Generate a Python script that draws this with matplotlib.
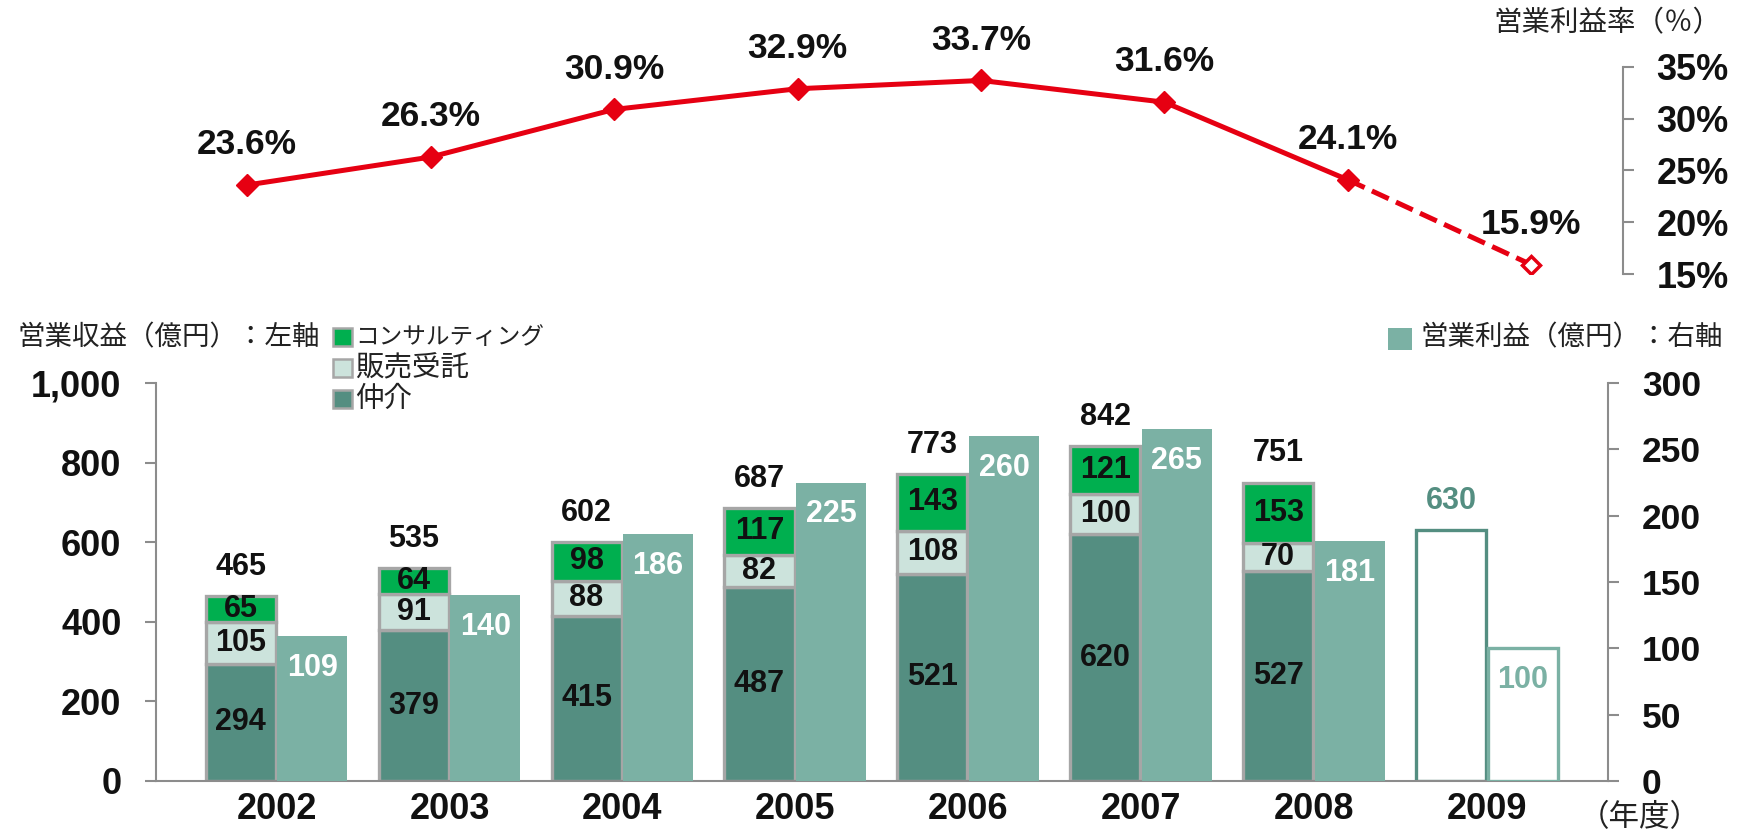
import matplotlib
matplotlib.use('Agg')
import matplotlib.pyplot as plt
from matplotlib.patches import Rectangle
import numpy as np

# ---------------- data ----------------
years = ['2002', '2003', '2004', '2005', '2006', '2007', '2008', '2009']
chukai = [294, 379, 415, 487, 521, 620, 527]          # 仲介
hanbai = [105, 91, 88, 82, 108, 100, 70]              # 販売受託
consult = [65, 64, 98, 117, 143, 121, 153]            # コンサルティング
totals = [465, 535, 602, 687, 773, 842, 751]          # 営業収益 合計
revenue_2009 = 630
op_profit = [109, 140, 186, 225, 260, 265, 181]       # 営業利益
profit_2009 = 100
margin = [23.6, 26.3, 30.9, 32.9, 33.7, 31.6, 24.1]   # 営業利益率
margin_2009 = 15.9
left_ticks = [0, 200, 400, 600, 800, 1000]
left_ticklabels = ['0', '200', '400', '600', '800', '1,000']
right_ticks = [0, 50, 100, 150, 200, 250, 300]
pct_ticks = [15, 20, 25, 30, 35]

# ---------------- style ----------------
W, H = 1742, 835
NUM = 'Liberation Sans'
CJK = ['Noto Sans CJK JP', 'DejaVu Sans']
C_CHUKAI = '#548E81'
C_HANBAI = '#CCE3DC'
C_CONSULT = '#00AF4F'
C_PROFIT = '#7BB1A4'
C_EDGE = '#A6A6A6'
C_AXIS = '#8C8C8C'
C_RED = '#E60012'

fig = plt.figure(figsize=(W / 100, H / 100), dpi=100)


def rect(x0, y0, x1, y1):
    return [x0 / W, 1 - y1 / H, (x1 - x0) / W, (y1 - y0) / H]


# ---------------- bottom bar chart ----------------
ax = fig.add_axes(rect(155.5, 383, 1608, 781))
ax2 = ax.twinx()
ax.set_xlim(-0.7, 7.7)
ax.set_ylim(0, 1000)
ax2.set_ylim(0, 300)

x = np.arange(len(chukai))
bw = 0.405
off = 0.207
xs = x - off
xp = x + off

bottoms2 = np.array(chukai)
bottoms3 = bottoms2 + np.array(hanbai)
ax.bar(xs, chukai, bw, color=C_CHUKAI, edgecolor=C_EDGE, linewidth=2.4, zorder=2)
ax.bar(xs, hanbai, bw, bottom=bottoms2, color=C_HANBAI, edgecolor=C_EDGE, linewidth=2.4, zorder=2)
ax.bar(xs, consult, bw, bottom=bottoms3, color=C_CONSULT, edgecolor=C_EDGE, linewidth=2.4, zorder=2)
ax.bar([7 - off], [revenue_2009], bw, color='white', edgecolor=C_CHUKAI, linewidth=2.4, zorder=2)

ax2.bar(xp, op_profit, bw, color=C_PROFIT, linewidth=0, zorder=2)
ax2.bar([7 + off], [profit_2009], bw, color='white', edgecolor=C_PROFIT, linewidth=2.4, zorder=2)

lab = dict(fontfamily=NUM, fontweight='bold', fontsize=22, ha='center', va='center')
for i in range(len(chukai)):
    ax.text(xs[i], chukai[i] / 2, str(chukai[i]), color='#111111', zorder=5, **lab)
    ax.text(xs[i], bottoms2[i] + hanbai[i] / 2, str(hanbai[i]), color='#111111', zorder=5, **lab)
    ax.text(xs[i], bottoms3[i] + consult[i] / 2, str(consult[i]), color='#111111', zorder=5, **lab)
    top = bottoms3[i] + consult[i]
    ax.annotate(str(totals[i]), xy=(xs[i], top), xytext=(0, 21), textcoords='offset points',
                color='#111111', **lab)
    ax2.annotate(str(op_profit[i]), xy=(xp[i], op_profit[i]), xytext=(0, -23),
                 textcoords='offset points', color='white', zorder=5, **lab)
ax.annotate(str(revenue_2009), xy=(7 - off, revenue_2009), xytext=(0, 21),
            textcoords='offset points', color=C_CHUKAI, **lab)
ax2.annotate(str(profit_2009), xy=(7 + off, profit_2009), xytext=(0, -23),
             textcoords='offset points', color=C_PROFIT, zorder=5, **lab)

for a in (ax, ax2):
    for s in a.spines.values():
        s.set_visible(False)
ax.spines['left'].set_visible(True)
ax.spines['bottom'].set_visible(True)
ax2.spines['right'].set_visible(True)
for s in (ax.spines['left'], ax.spines['bottom'], ax2.spines['right']):
    s.set_color(C_AXIS)
    s.set_linewidth(1.5)

ax.set_xticks(range(len(years)))
ax.set_xticklabels(years, fontfamily=NUM, fontweight='bold', fontsize=26)
ax.tick_params(axis='x', length=0, pad=8, colors='#111111')
ax.set_yticks(left_ticks)
ax.set_yticklabels(left_ticklabels, fontfamily=NUM, fontweight='bold', fontsize=26)
ax.tick_params(axis='y', direction='out', length=8, width=1.5, color=C_AXIS, pad=16.5,
               labelcolor='#111111')
ax2.set_yticks(right_ticks)
ax2.set_yticklabels([str(t) for t in right_ticks], fontfamily=NUM, fontweight='bold', fontsize=25.5)
ax2.tick_params(axis='y', direction='out', length=8, width=1.5, color=C_AXIS, pad=16.5,
                labelcolor='#111111')

# ---------------- top line chart ----------------
axt = fig.add_axes(rect(155.5, 67, 1623, 274))
axt.set_xlim(-0.5, 7.5)
axt.set_ylim(15, 35)
axt.patch.set_visible(False)
xl = np.arange(len(margin))
axt.plot([6, 7], [margin[-1], margin_2009], color=C_RED, lw=3.6, ls='--', zorder=2)
axt.plot(xl, margin, color=C_RED, lw=3.6, marker='D', ms=11, mfc=C_RED, mec=C_RED, zorder=3)
axt.plot([7], [margin_2009], ls='none', marker='D', ms=9, mfc='white', mec=C_RED, mew=2.5, zorder=3)
plab = dict(fontfamily=NUM, fontweight='bold', fontsize=25.5, ha='center', va='center',
            color='#111111', textcoords='offset points', xytext=(0, 29))
for i, v in enumerate(margin):
    axt.annotate(f'{v:.1f}%', xy=(i, v), **plab)
axt.annotate(f'{margin_2009:.1f}%', xy=(7, margin_2009), **plab)
for k, s in axt.spines.items():
    s.set_visible(k == 'right')
axt.spines['right'].set_color(C_AXIS)
axt.spines['right'].set_linewidth(1.5)
axt.set_xticks([])
axt.yaxis.tick_right()
axt.set_yticks(pct_ticks)
axt.set_yticklabels([f'{t}%' for t in pct_ticks], fontfamily=NUM, fontweight='bold', fontsize=26)
axt.tick_params(axis='y', direction='out', length=8, width=1.5, color=C_AXIS, pad=16,
                labelcolor='#111111')

# ---------------- texts / legends ----------------
ctext = dict(fontfamily=CJK, color='#222222', va='center')
fig.text(1493 / W, 1 - 23.5 / H, '営業利益率（％）', ha='left', fontsize=20.5, **ctext)
fig.text(17 / W, 1 - 338 / H, '営業収益（億円）：左軸', ha='left', fontsize=19.8, **ctext)
fig.text(1420 / W, 1 - 338 / H, '営業利益（億円）：右軸', ha='left', fontsize=19.8, **ctext)
fig.text(1640 / W, 1 - 818 / H, '（年度）', ha='center', fontsize=22, **ctext)

legend_items = [('コンサルティング', C_CONSULT, 17), ('販売受託', C_HANBAI, 20.5),
                ('仲介', C_CHUKAI, 20.5)]
for j, (name, col, fs) in enumerate(legend_items):
    yc = 337 + j * 31
    fig.patches.append(Rectangle((333 / W, 1 - (yc + 9) / H), 19 / W, 18 / H,
                                 transform=fig.transFigure, facecolor=col,
                                 edgecolor=C_EDGE, linewidth=1.8))
    fig.text(355 / W, 1 - yc / H, name, ha='left', fontsize=fs, **ctext)
fig.patches.append(Rectangle((1388 / W, 1 - 350 / H), 24 / W, 22 / H,
                             transform=fig.transFigure, facecolor=C_PROFIT, linewidth=0))

fig.savefig('out.png', dpi=100)
